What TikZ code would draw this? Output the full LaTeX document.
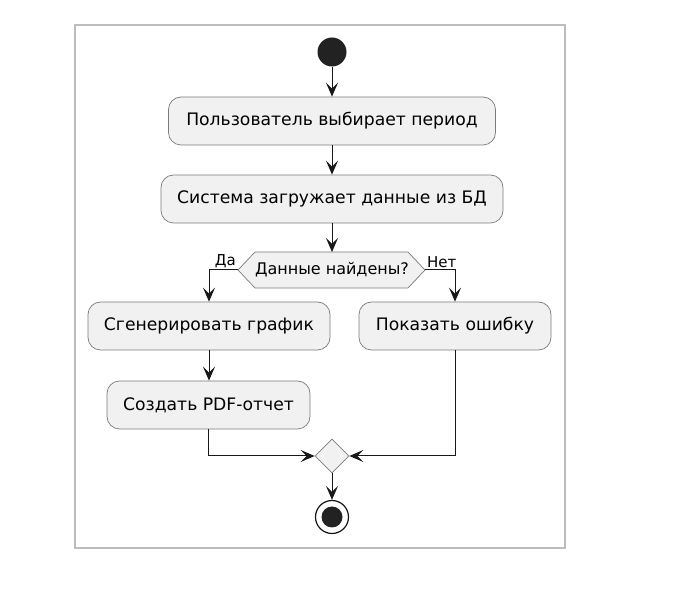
\documentclass[tikz,border=0pt]{standalone}
\usepackage{fontspec}
\setmainfont{DejaVu Sans}
\usetikzlibrary{arrows.meta,shapes.geometric}
\definecolor{boxfill}{HTML}{F1F1F1}
\definecolor{boxline}{HTML}{7A7A7A}
\definecolor{ln}{HTML}{181818}
\definecolor{framecol}{HTML}{BDBDBD}
\definecolor{dotfill}{HTML}{222222}
\begin{document}
\begin{tikzpicture}[x=1pt,y=-1pt,
  act/.style={draw=boxline, fill=boxfill, line width=0.7pt, rounded corners=12.5pt, minimum height=48pt, inner sep=0pt, font=\fontsize{17.2}{20}\selectfont},
  flow/.style={draw=ln, line width=1pt, -{Stealth[length=14pt,width=12pt,inset=6pt]}},
  lbl/.style={font=\fontsize{15}{17}\selectfont, inner sep=0pt}
]
\useasboundingbox (0,0) rectangle (689,601);
\draw[framecol, line width=1.5pt] (75,25) rectangle (565,548);
\node[circle, fill=dotfill, minimum size=29pt, inner sep=0pt] (start) at (332,52) {};
\node[act, minimum width=327pt] (b1) at (332,121) {Пользователь выбирает период};
\node[act, minimum width=342pt] (b2) at (332,199) {Система загружает данные из БД};
\draw[draw=boxline, fill=boxfill, line width=0.7pt] (238,270) -- (255,252) -- (408,252) -- (425,270) -- (408,288) -- (255,288) -- cycle;
\node[font=\fontsize{16}{18}\selectfont, inner sep=0pt] (hexT) at (332,270) {Данные найдены?};
\coordinate (hexN) at (332,252);
\coordinate (hexW) at (238,270);
\coordinate (hexE) at (425,270);
\node[act, minimum width=242pt] (b3) at (209,326) {Сгенерировать график};
\node[act, minimum width=192pt] (b4) at (455,326) {Показать ошибку};
\node[act, minimum width=203pt] (b5) at (208.5,405) {Создать PDF-отчет};
\node[diamond, draw=boxline, fill=boxfill, line width=0.7pt, minimum size=34pt, inner sep=0pt] (merge) at (332,456) {};
\node[circle, draw=ln, line width=1.2pt, fill=white, minimum size=33pt, inner sep=0pt] (end) at (332,517) {};
\node[circle, fill=dotfill, minimum size=21pt, inner sep=0pt] (endin) at (end) {};
\node[lbl, anchor=south east] (yes) at (236,268) {Да};
\node[lbl, anchor=south west] (no) at (427,268) {Нет};
\draw[flow] (start) -- (b1);
\draw[flow] (b1) -- (b2);
\draw[flow] (b2) -- (hexN);
\draw[flow] (hexW) -| (b3.north);
\draw[flow] (hexE) -| (b4.north);
\draw[flow] (b3.south) -- (b3.south |- b5.north);
\draw[flow] (b5.south) |- (merge.west);
\draw[flow] (b4.south) |- (merge.east);
\draw[flow] (merge) -- (end);
\end{tikzpicture}
\end{document}
